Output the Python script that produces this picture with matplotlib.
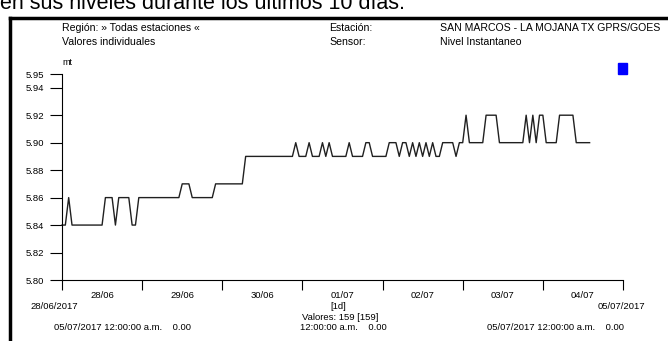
import pandas as pd
import matplotlib.pyplot as plt
import matplotlib.dates as mdates
from matplotlib.patches import Rectangle

# hourly level readings (mt), 28/06/2017 00:00 onwards, 159 values
nivel = [
    5.84, 5.84, 5.86, 5.84, 5.84, 5.84, 5.84, 5.84, 5.84, 5.84,
    5.84, 5.84, 5.84, 5.86, 5.86, 5.86, 5.84, 5.86, 5.86, 5.86,
    5.86, 5.84, 5.84, 5.86, 5.86, 5.86, 5.86, 5.86, 5.86, 5.86,
    5.86, 5.86, 5.86, 5.86, 5.86, 5.86, 5.87, 5.87, 5.87, 5.86,
    5.86, 5.86, 5.86, 5.86, 5.86, 5.86, 5.87, 5.87, 5.87, 5.87,
    5.87, 5.87, 5.87, 5.87, 5.87, 5.89, 5.89, 5.89, 5.89, 5.89,
    5.89, 5.89, 5.89, 5.89, 5.89, 5.89, 5.89, 5.89, 5.89, 5.89,
    5.90, 5.89, 5.89, 5.89, 5.90, 5.89, 5.89, 5.89, 5.90, 5.89,
    5.90, 5.89, 5.89, 5.89, 5.89, 5.89, 5.90, 5.89, 5.89, 5.89,
    5.89, 5.90, 5.90, 5.89, 5.89, 5.89, 5.89, 5.89, 5.90, 5.90,
    5.90, 5.89, 5.90, 5.90, 5.89, 5.90, 5.89, 5.90, 5.89, 5.90,
    5.89, 5.90, 5.89, 5.89, 5.90, 5.90, 5.90, 5.90, 5.89, 5.90,
    5.90, 5.92, 5.90, 5.90, 5.90, 5.90, 5.90, 5.92, 5.92, 5.92,
    5.92, 5.90, 5.90, 5.90, 5.90, 5.90, 5.90, 5.90, 5.90, 5.92,
    5.90, 5.92, 5.90, 5.92, 5.92, 5.90, 5.90, 5.90, 5.90, 5.92,
    5.92, 5.92, 5.92, 5.92, 5.90, 5.90, 5.90, 5.90, 5.90,
]
horas = pd.date_range("2017-06-28 00:00", periods=len(nivel), freq="h")

dias = ["28/06", "29/06", "30/06", "01/07", "02/07", "03/07", "04/07"]
y_ticks = [5.80, 5.82, 5.84, 5.86, 5.88, 5.90, 5.92, 5.94, 5.95]

W, H = 668, 341
plt.rcParams["font.family"] = ["Liberation Sans", "DejaVu Sans"]

fig = plt.figure(figsize=(W / 100, H / 100), dpi=100)


def px(x, y):
    return x / W, 1 - y / H


# page text cut off at top
fig.text(*px(0, 9), "en sus niveles durante los últimos 10 días.", fontsize=15.5,
         va="baseline", ha="left")

# frame of the report box
fig.add_artist(plt.Line2D([10 / W, 10 / W], [0, 1 - 18 / H], color="black", lw=2.5))
fig.add_artist(plt.Line2D([10 / W, 1], [1 - 18 / H, 1 - 18 / H], color="black", lw=2.5))

hs = 7.6
fig.text(*px(62, 31), "Región: » Todas estaciones «", fontsize=hs, va="baseline")
fig.text(*px(62, 45), "Valores individuales", fontsize=hs, va="baseline")
fig.text(*px(329, 31), "Estación:", fontsize=hs, va="baseline")
fig.text(*px(329, 45), "Sensor:", fontsize=hs, va="baseline")
fig.text(*px(440, 31), "SAN MARCOS - LA MOJANA TX GPRS/GOES", fontsize=hs, va="baseline")
fig.text(*px(440, 45), "Nivel Instantaneo", fontsize=hs, va="baseline")
fig.text(*px(62, 65), "mt", fontsize=6.5, va="baseline")

fig.add_artist(Rectangle(px(618, 74), 9 / W, 11 / H, color="#0000ff"))

ax = fig.add_axes([62 / W, 1 - 280 / H, (623 - 62) / W, (280 - 74) / H])
ax.plot(horas, nivel, color="#202020", lw=1.0, clip_on=False)

ax.set_xlim(pd.Timestamp("2017-06-28"), pd.Timestamp("2017-07-05"))
ax.set_ylim(5.80, 5.95)
ax.set_yticks(y_ticks)
ax.set_yticklabels([f"{v:.2f}" for v in y_ticks], fontsize=6.8)

ax.xaxis.set_major_locator(mdates.DayLocator())
ax.xaxis.set_major_formatter(plt.NullFormatter())
ax.set_xticks(pd.date_range("2017-06-28 12:00", periods=7, freq="D"), minor=True)
ax.set_xticklabels(dias, minor=True, fontsize=6.8)
ax.tick_params(axis="x", which="minor", length=0, pad=8)
ax.tick_params(axis="x", which="major", length=7, width=0.8)
ax.tick_params(axis="y", length=9, width=0.8, pad=4)

for s in ["top", "right"]:
    ax.spines[s].set_visible(False)
for s in ["left", "bottom"]:
    ax.spines[s].set_linewidth(0.8)

fs = 6.8
fig.text(*px(30, 309), "28/06/2017", fontsize=fs, va="baseline")
fig.text(*px(645, 309), "05/07/2017", fontsize=fs, va="baseline", ha="right")
fig.text(*px(338, 309), "[1d]", fontsize=fs, va="baseline", ha="center")
fig.text(*px(340, 320), "Valores: 159 [159]", fontsize=fs, va="baseline", ha="center")
fig.text(*px(54, 330), "05/07/2017 12:00:00 a.m.    0.00", fontsize=fs, va="baseline")
fig.text(*px(300, 330), "12:00:00 a.m.    0.00", fontsize=fs, va="baseline")
fig.text(*px(487, 330), "05/07/2017 12:00:00 a.m.    0.00", fontsize=fs, va="baseline")

fig.savefig("out.png", dpi=100)
